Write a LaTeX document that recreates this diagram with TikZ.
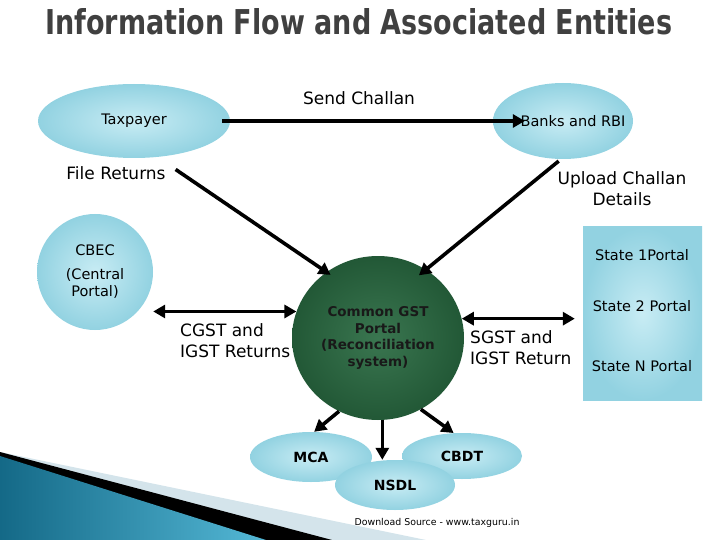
\documentclass[tikz,border=0pt]{standalone}
\usepackage{graphicx}
\usepackage{fontspec}
\setmainfont{DejaVu Sans}
\usetikzlibrary{shapes.geometric,arrows.meta}

\definecolor{droplight}{RGB}{200,236,244}
\definecolor{dropblue}{RGB}{146,210,225}
\definecolor{gstlight}{RGB}{58,118,80}
\definecolor{gstdark}{RGB}{34,88,54}
\definecolor{titlegray}{RGB}{64,64,64}
\definecolor{bandlight}{RGB}{212,228,235}
\definecolor{tealdark}{RGB}{20,105,135}
\definecolor{teallight}{RGB}{84,184,214}

\tikzset{
  drop/.style={ellipse, inner color=droplight, outer color=dropblue, inner sep=0pt,
    align=center, font=\fontsize{14.5}{17.5}\selectfont},
  dropbold/.style={drop, font=\fontsize{14}{17}\selectfont\bfseries},
  flow/.style={line width=3.6pt, -{Triangle[length=12pt,width=13pt]}},
  biflow/.style={line width=3.6pt, {Triangle[length=12pt,width=13pt]}-{Triangle[length=12pt,width=13pt]}},
  lbl/.style={inner sep=0pt, align=center, font=\fontsize{17}{21}\selectfont},
  portal/.style={inner sep=0pt, font=\fontsize{14.5}{17.5}\selectfont},
}

\begin{document}
\begin{tikzpicture}[x=1pt,y=-1pt]
\useasboundingbox (0,0) rectangle (720,540);

% corner bands
\fill[bandlight] (0,452) -- (426,540) -- (0,540) -- cycle;
\fill[black] (0,452) -- (332,540) -- (0,540) -- cycle;
\shade[left color=tealdark, right color=teallight] (0,456) -- (266,540) -- (0,540) -- cycle;

% title
\node[anchor=base west, inner sep=0pt, text=titlegray] (title) at (45,35)
  {\resizebox{627pt}{26pt}{\bfseries Information Flow and Associated Entities}};

% entities
\node[drop, minimum width=192pt, minimum height=74pt] (tax) at (134,121) {Taxpayer};
\node[drop, minimum width=140pt, minimum height=76pt] (banks) at (563,121) {};
\node[portal] (bankstxt) at ([xshift=10pt]banks.center) {Banks and RBI};
\node[drop, circle, minimum size=116pt] (cbec) at (95,272) {CBEC\\[6pt](Central\\Portal)};
\node[rectangle, inner color=droplight, outer color=dropblue,
  minimum width=119pt, minimum height=173pt] (states) at (642.5,313.5) {};
\node[portal] (st1) at (642,255) {State 1Portal};
\node[portal] (st2) at (642,306) {State 2 Portal};
\node[portal] (stn) at (642,366) {State N Portal};

\node[ellipse, inner color=gstlight, outer color=gstdark, minimum width=172pt,
  minimum height=164pt, inner sep=0pt, align=center, text=black!90,
  font=\fontsize{13.5}{16.5}\selectfont\bfseries] (gst) at (378,338)
  {Common GST\\Portal\\(Reconciliation\\system)};

\node[dropbold, minimum width=122pt, minimum height=50pt] (mca) at (311,457) {MCA};
\node[dropbold, minimum width=120pt, minimum height=46pt] (cbdt) at (462,456) {CBDT};
\node[dropbold, minimum width=120pt, minimum height=50pt] (nsdl) at (395,485) {NSDL};

% connectors
\draw[flow, shorten <=-8pt, shorten >=-32pt] (tax) -- (banks);
\draw[flow, shorten <=22pt, shorten >=-5pt] (tax.-57) -- (gst.128);
\draw[flow, shorten <=3pt, shorten >=-9pt] (banks.-93) -- (gst.55);
\draw[biflow] (gst.162 -| cbec.east) -- (gst.162);
\draw[biflow, shorten >=8pt] (gst.13) -- (gst.13 -| states.west);
\draw[flow] (gst.242) -- (mca.83);
\draw[flow] (gst.273) -- (gst.273 |- nsdl.north);
\draw[flow] (gst.-59) -- (cbdt.110);

% labels
\node[lbl] (send) at (359,98) {Send Challan};
\node[lbl] (file) at (116,173) {File Returns};
\node[lbl] (upload) at (622,189) {Upload Challan\\Details};
\node[lbl, align=left, anchor=west] (cgst) at (180,341) {CGST and\\IGST Returns};
\node[lbl, align=left, anchor=west] (sgst) at (470,348) {SGST and\\IGST Return};
\node[inner sep=0pt, font=\fontsize{9.4}{11}\selectfont] (src) at (437,523)
  {Download Source - www.taxguru.in};
\end{tikzpicture}
\end{document}
